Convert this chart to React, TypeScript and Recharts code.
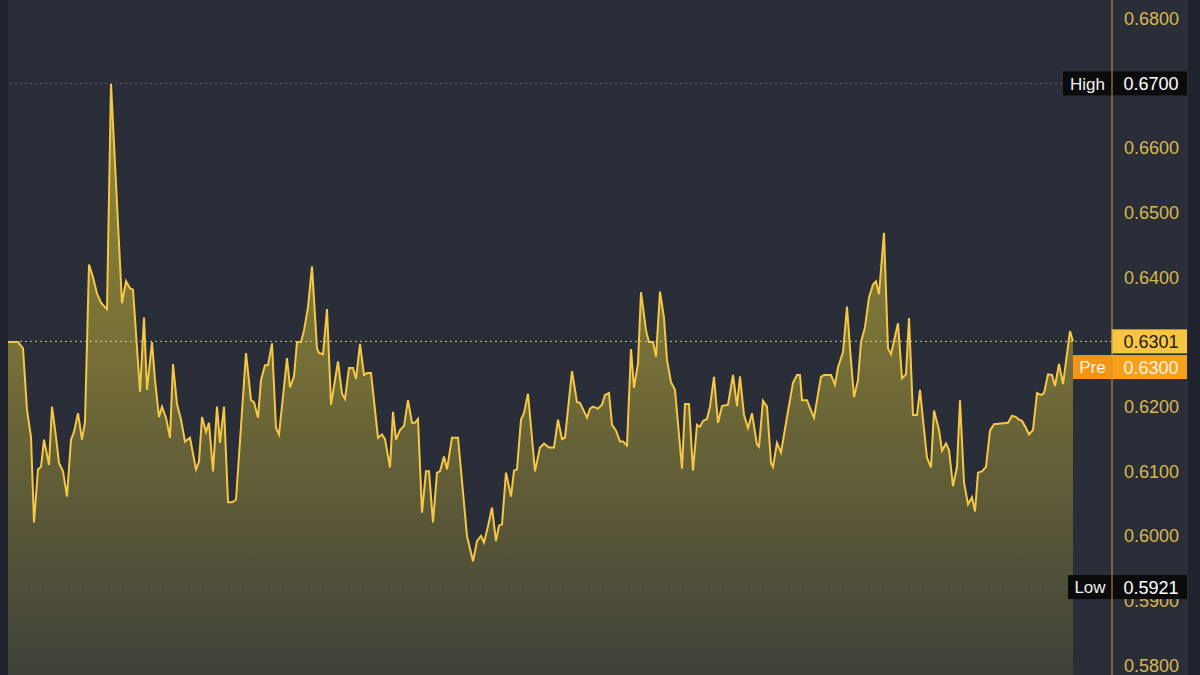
import React from 'react';
import {
  ComposedChart,
  Area,
  XAxis,
  YAxis,
  ReferenceLine,
} from 'recharts';

// time index of each sample (trading ticks since session start)
const times = [
  0, 10, 15, 19, 23, 26, 30, 33, 36, 41,
  44, 48, 51, 55, 59, 63, 66, 70, 74, 77,
  81, 85, 89, 93, 97, 99, 103, 114, 118, 122,
  125, 132, 136, 139, 144, 147, 151, 154, 158, 162,
  165, 169, 173, 177, 182, 188, 191, 194, 198, 201,
  205, 209, 212, 216, 220, 224, 228, 238, 243, 246,
  250, 253, 257, 260, 264, 268, 271, 279, 282, 286,
  289, 293, 296, 300, 304, 309, 311, 315, 319, 323,
  330, 334, 337, 341, 345, 348, 352, 356, 359, 363,
  370, 374, 377, 382, 385, 388, 392, 396, 400, 404,
  407, 410, 414, 418, 421, 425, 429, 432, 436, 439,
  444, 450, 459, 465, 469, 473, 476, 480, 484, 488,
  491, 494, 498, 503, 506, 509, 513, 516, 520, 527,
  532, 536, 541, 546, 550, 554, 557, 564, 569, 572,
  579, 582, 585, 590, 594, 597, 601, 604, 608, 612,
  615, 619, 623, 626, 630, 633, 638, 641, 645, 648,
  652, 656, 659, 663, 667, 674, 677, 681, 685, 689,
  692, 695, 699, 702, 706, 710, 714, 720, 725, 729,
  732, 736, 740, 744, 749, 751, 755, 759, 763, 765,
  769, 773, 779, 785, 789, 792, 794, 799, 802, 806,
  813, 816, 823, 827, 830, 835, 839, 842, 846, 850,
  853, 857, 861, 865, 868, 871, 876, 880, 883, 890,
  894, 898, 901, 905, 909, 912, 915, 919, 923, 926,
  931, 934, 938, 941, 945, 949, 952, 956, 960, 964,
  967, 970, 974, 978, 982, 986, 1000, 1004, 1008, 1011,
  1014, 1018, 1021, 1025, 1029, 1033, 1036, 1040, 1044, 1047,
  1051, 1055, 1062, 1065,
];

// price at each sample
const prices = [
  0.6300, 0.6300, 0.6290, 0.6195, 0.6153, 0.6021, 0.6103, 0.6107, 0.6149, 0.6110,
  0.6200, 0.6153, 0.6113, 0.6100, 0.6061, 0.6149, 0.6161, 0.6190, 0.6149, 0.6177,
  0.6420, 0.6400, 0.6375, 0.6361, 0.6354, 0.6351, 0.6700, 0.6360, 0.6394, 0.6383,
  0.6381, 0.6223, 0.6338, 0.6226, 0.6300, 0.6241, 0.6184, 0.6200, 0.6183, 0.6152,
  0.6266, 0.6204, 0.6180, 0.6146, 0.6152, 0.6103, 0.6115, 0.6184, 0.6161, 0.6175,
  0.6100, 0.6200, 0.6144, 0.6200, 0.6052, 0.6052, 0.6056, 0.6283, 0.6210, 0.6207,
  0.6183, 0.6241, 0.6264, 0.6264, 0.6298, 0.6167, 0.6157, 0.6275, 0.6230, 0.6247,
  0.6300, 0.6300, 0.6318, 0.6354, 0.6417, 0.6290, 0.6283, 0.6281, 0.6351, 0.6203,
  0.6270, 0.6220, 0.6212, 0.6260, 0.6260, 0.6243, 0.6297, 0.6249, 0.6252, 0.6252,
  0.6152, 0.6157, 0.6150, 0.6106, 0.6192, 0.6149, 0.6164, 0.6170, 0.6210, 0.6175,
  0.6175, 0.6181, 0.6036, 0.6100, 0.6100, 0.6021, 0.6098, 0.6100, 0.6123, 0.6103,
  0.6152, 0.6152, 0.6000, 0.5961, 0.5992, 0.6000, 0.5990, 0.6015, 0.6044, 0.5992,
  0.6016, 0.6018, 0.6098, 0.6061, 0.6101, 0.6103, 0.6180, 0.6190, 0.6220, 0.6100,
  0.6137, 0.6143, 0.6137, 0.6137, 0.6180, 0.6150, 0.6152, 0.6255, 0.6207, 0.6206,
  0.6183, 0.6197, 0.6200, 0.6197, 0.6203, 0.6218, 0.6221, 0.6172, 0.6163, 0.6146,
  0.6146, 0.6140, 0.6289, 0.6229, 0.6267, 0.6377, 0.6318, 0.6300, 0.6300, 0.6277,
  0.6378, 0.6337, 0.6272, 0.6238, 0.6226, 0.6104, 0.6204, 0.6204, 0.6101, 0.6172,
  0.6169, 0.6178, 0.6181, 0.6200, 0.6246, 0.6175, 0.6201, 0.6203, 0.6249, 0.6201,
  0.6247, 0.6187, 0.6167, 0.6190, 0.6141, 0.6138, 0.6209, 0.6200, 0.6113, 0.6107,
  0.6144, 0.6129, 0.6184, 0.6237, 0.6249, 0.6249, 0.6210, 0.6210, 0.6198, 0.6183,
  0.6246, 0.6249, 0.6249, 0.6234, 0.6261, 0.6284, 0.6355, 0.6290, 0.6215, 0.6241,
  0.6300, 0.6323, 0.6369, 0.6389, 0.6394, 0.6374, 0.6469, 0.6290, 0.6281, 0.6329,
  0.6244, 0.6250, 0.6337, 0.6187, 0.6187, 0.6226, 0.6180, 0.6121, 0.6106, 0.6194,
  0.6164, 0.6132, 0.6143, 0.6133, 0.6077, 0.6107, 0.6210, 0.6083, 0.6049, 0.6060,
  0.6038, 0.6098, 0.6100, 0.6107, 0.6163, 0.6173, 0.6175, 0.6186, 0.6184, 0.6180,
  0.6178, 0.6167, 0.6157, 0.6164, 0.6221, 0.6218, 0.6221, 0.6250, 0.6249, 0.6232,
  0.6266, 0.6235, 0.6317, 0.6301,
];

const priceTicks = [0.58, 0.59, 0.6, 0.61, 0.62, 0.63, 0.64, 0.65, 0.66, 0.67, 0.68];
const priceDomain = [0.5785, 0.6829];
const timeDomain = [0, 1104];

const highPrice = 0.67;
const lowPrice = 0.5921;
const lastPrice = 0.6301;
const prePrice = 0.63;

const BG = '#2a2e39';
const LINE = '#f6c744';
const AXIS = '#c99a3c';
const TICK = '#d9b84c';
const FONT = '"Liberation Sans", Arial, Helvetica, sans-serif';

const data = times.map((t, i) => ({ t, price: prices[i] }));

// 가격 태그 (축 위 라벨 박스)
function PriceTag(props: any) {
  const { viewBox, name, value, bg, nameBg, color, nameColor, nameWidth = 0, offsetY = 0 } = props;
  if (!viewBox) return null;
  const axisX = viewBox.x + viewBox.width;
  const cy = viewBox.y + offsetY;
  const h = 24;
  return (
    <g>
      {name && (
        <rect x={axisX - nameWidth} y={cy - h / 2} width={nameWidth} height={h} fill={nameBg} />
      )}
      <rect x={axisX} y={cy - h / 2} width={75} height={h} fill={bg} />
      <line x1={axisX} x2={axisX} y1={cy - h / 2} y2={cy + h / 2} stroke={AXIS} strokeWidth={1} />
      {name && (
        <text
          x={axisX - nameWidth / 2}
          y={cy}
          dy="0.36em"
          textAnchor="middle"
          fill={nameColor}
          fontSize={17}
          fontFamily={FONT}
        >
          {name}
        </text>
      )}
      <text
        x={axisX + 39}
        y={cy}
        dy="0.36em"
        textAnchor="middle"
        fill={color}
        fontSize={18}
        fontFamily={FONT}
      >
        {value.toFixed(4)}
      </text>
    </g>
  );
}

export default function App() {
  return (
    <div
      style={{
        position: 'absolute',
        left: 0,
        top: 0,
        width: 1200,
        height: 675,
        background: `linear-gradient(to right, #1f232d 0px, #1f232d 8px, ${BG} 8px, ${BG} 1188px, #1f232d 1188px)`,
      }}
    >
      {/* 가격 영역 차트 */}
      <div style={{ position: 'absolute', left: 0, top: 0 }}>
        <ComposedChart
          width={1200}
          height={675}
          data={data}
          margin={{ top: 0, right: 0, left: 8, bottom: 0 }}
        >
          <defs>
            <linearGradient id="fillGrad" x1="0" y1="0" x2="0" y2="1">
              <stop offset="0%" stopColor="#e4cf34" stopOpacity={0.95} />
              <stop offset="45%" stopColor="#e4cf34" stopOpacity={0.68} />
              <stop offset="100%" stopColor="#e4cf34" stopOpacity={0.2} />
            </linearGradient>
          </defs>

          <XAxis dataKey="t" type="number" domain={timeDomain} hide allowDataOverflow />

          <YAxis
            orientation="right"
            width={88}
            type="number"
            domain={priceDomain}
            allowDataOverflow
            ticks={priceTicks}
            interval={0}
            tickFormatter={(v: number) => v.toFixed(4)}
            tick={{ fill: TICK, fontSize: 18, fontFamily: FONT }}
            tickLine={false}
            tickSize={6}
            tickMargin={6}
            axisLine={{ stroke: AXIS, strokeWidth: 1 }}
          />

          <ReferenceLine y={highPrice} stroke="#5a5e69" strokeDasharray="2 3" />
          <ReferenceLine y={lowPrice} stroke="#5a5e69" strokeDasharray="2 3" />
          <ReferenceLine y={lastPrice} stroke="#cfc48e" strokeDasharray="2 3" />

          <Area
            type="linear"
            dataKey="price"
            stroke={LINE}
            strokeWidth={2}
            fill="url(#fillGrad)"
            isAnimationActive={false}
            dot={false}
            activeDot={false}
          />
        </ComposedChart>
      </div>

      {/* 축 위 가격 태그 (틱 라벨 위에 그리기) */}
      <div style={{ position: 'absolute', left: 0, top: 0 }}>
        <ComposedChart
          width={1200}
          height={675}
          data={data}
          margin={{ top: 0, right: 88, left: 8, bottom: 0 }}
        >
          <XAxis dataKey="t" type="number" domain={timeDomain} hide allowDataOverflow />
          <YAxis type="number" domain={priceDomain} hide allowDataOverflow />
          <ReferenceLine
            y={highPrice}
            stroke="none"
            label={(p: any) => (
              <PriceTag {...p} name="High" value={highPrice} bg="#0b0b0c" nameBg="#0b0b0c"
                color="#ffffff" nameColor="#f2f2f2" nameWidth={49} />
            )}
          />
          <ReferenceLine
            y={lowPrice}
            stroke="none"
            label={(p: any) => (
              <PriceTag {...p} name="Low" value={lowPrice} bg="#0b0b0c" nameBg="#0b0b0c"
                color="#ffffff" nameColor="#f2f2f2" nameWidth={44} />
            )}
          />
          <ReferenceLine
            y={lastPrice}
            stroke="none"
            label={(p: any) => (
              <PriceTag {...p} value={lastPrice} bg="#f7c53f" color="#1d1d1d" />
            )}
          />
          <ReferenceLine
            y={prePrice}
            stroke="none"
            label={(p: any) => (
              <PriceTag {...p} name="Pre" value={prePrice} bg="#f7a01c" nameBg="#f29416"
                color="#fff4e0" nameColor="#fff4e0" nameWidth={39} offsetY={25} />
            )}
          />
        </ComposedChart>
      </div>
    </div>
  );
}
